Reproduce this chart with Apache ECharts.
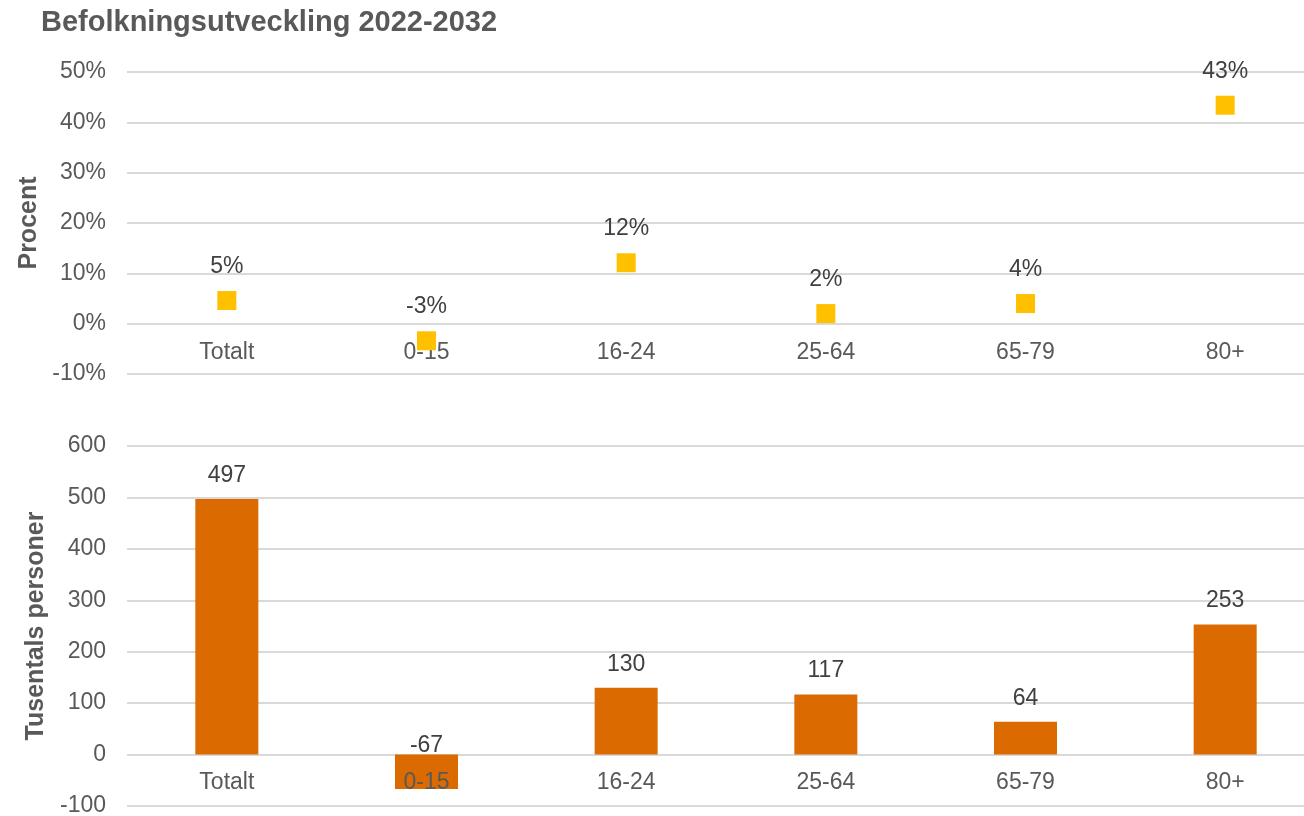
<!DOCTYPE html>
<html>
<head>
<meta charset="utf-8">
<script src="https://cdn.jsdelivr.net/npm/echarts@6/dist/echarts.min.js"></script>
<style>
  html, body { margin: 0; padding: 0; background: #fff; }
  #chart { width: 1304px; height: 816px; }
</style>
</head>
<body>
<div id="chart"></div>
<script>
// ---- data ----
const chartTitle = 'Befolkningsutveckling 2022-2032';
const categories = ['Totalt', '0-15', '16-24', '25-64', '65-79', '80+'];
const percentValues = [4.6, -3.4, 12.1, 2.0, 4.0, 43.4];      // Procent
const personValues = [497, -67, 130, 117, 64, 253];           // Tusentals personer
const percentAxisTicks = [-10, 0, 10, 20, 30, 40, 50];
const personAxisTicks = [-100, 0, 100, 200, 300, 400, 500, 600];

// ---- style ----
const FONT = '"Liberation Sans", Arial, sans-serif';
const TEXT = '#595959';
const LABEL = '#404040';
const GRIDLINE = '#D9D9D9';

const gridTop = { left: 127, right: -21, top: 72, height: 302 };
const gridBottom = { left: 127, right: -21, top: 446, height: 360 };

const chart = echarts.init(document.getElementById('chart'), null, { renderer: 'canvas' });

function tickStep(t) { return t[1] - t[0]; }
// distance from the grid's bottom edge up to the zero value line
function zeroOffset(ticks, h) {
  const lo = ticks[0], hi = ticks[ticks.length - 1];
  return -((0 - lo) / (hi - lo)) * h;
}

const catAxis = (gi, z, off) => ({
  type: 'category',
  gridIndex: gi,
  data: categories,
  z: z,
  position: 'bottom',
  offset: off,
  axisLine: { show: false, onZero: false },
  axisTick: { show: false },
  splitLine: { show: false },
  axisLabel: { margin: 17, fontSize: 23, color: TEXT, fontFamily: FONT }
});

const valAxis = (gi, ticks, name, gap, fmt) => ({
  type: 'value',
  gridIndex: gi,
  min: ticks[0],
  max: ticks[ticks.length - 1],
  interval: tickStep(ticks),
  axisLine: { show: false },
  axisTick: { show: false },
  axisLabel: { margin: 21, fontSize: 23, color: TEXT, fontFamily: FONT, formatter: fmt },
  splitLine: { show: true, lineStyle: { color: GRIDLINE, width: 2 } },
  name: name,
  nameLocation: 'middle',
  nameRotate: 90,
  nameGap: gap,
  nameTextStyle: { fontSize: 25, fontWeight: 'bold', color: TEXT, fontFamily: FONT }
});

const option = {
  backgroundColor: '#ffffff',
  animation: false,
  title: {
    text: chartTitle,
    left: 41,
    top: 8,
    padding: 0,
    textStyle: { fontSize: 29, fontWeight: 'bold', color: TEXT, fontFamily: FONT }
  },
  grid: [
    Object.assign({ containLabel: false, outerBoundsMode: 'none' }, gridTop),
    Object.assign({ containLabel: false, outerBoundsMode: 'none' }, gridBottom)
  ],
  xAxis: [
    catAxis(0, 0, zeroOffset(percentAxisTicks, gridTop.height)),
    catAxis(1, 5, zeroOffset(personAxisTicks, gridBottom.height))
  ],
  yAxis: [
    valAxis(0, percentAxisTicks, 'Procent', 85, '{value}%'),
    valAxis(1, personAxisTicks, 'Tusentals personer', 74, '{value}')
  ],
  series: [
    {
      type: 'scatter',
      xAxisIndex: 0,
      yAxisIndex: 0,
      symbol: 'rect',
      symbolSize: 19,
      z: 3,
      itemStyle: { color: '#FFC000', opacity: 1 },
      label: {
        show: true, position: 'top', distance: 13,
        fontSize: 23, color: LABEL, fontFamily: FONT,
        formatter: p => Math.round(Array.isArray(p.value) ? p.value[1] : p.value) + '%'
      },
      data: percentValues
    },
    {
      type: 'bar',
      xAxisIndex: 1,
      yAxisIndex: 1,
      barWidth: 63,
      z: 2,
      itemStyle: { color: '#DB6A00' },
      label: {
        show: true, position: 'top', distance: 12,
        fontSize: 23, color: LABEL, fontFamily: FONT
      },
      data: personValues.map(v => v < 0 ? { value: v, label: { distance: -3 } } : v)
    }
  ]
};

chart.setOption(option);
</script>
</body>
</html>
